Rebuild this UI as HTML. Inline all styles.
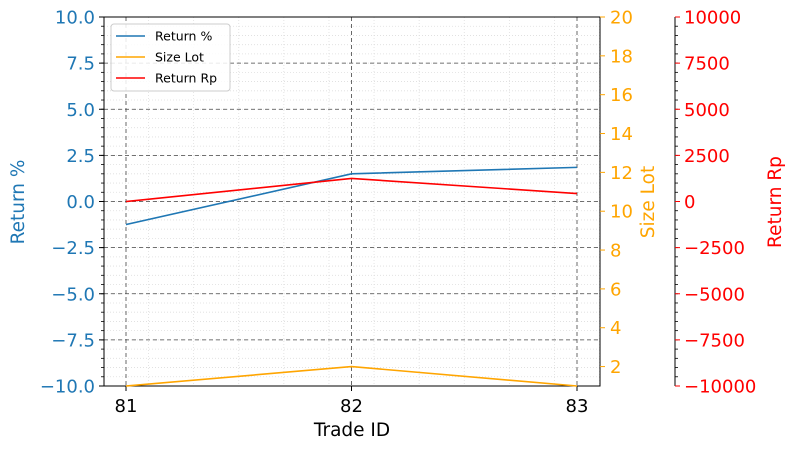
<!DOCTYPE html>
<html><head><meta charset="utf-8"><style>
body{margin:0;background:#fff;width:796px;height:450px;overflow:hidden}
svg{font-family:"DejaVu Sans","Liberation Sans",sans-serif}
</style></head><body>
<svg id="c" width="796" height="450"></svg>
<script>
const tradeIds=[81,82,83];
const returnPct=[-1.25,1.5,1.85];
const sizeLot=[1,2,1];
const returnRp=[0,1250,430];
const leftTicks=[-10,-7.5,-5,-2.5,0,2.5,5,7.5,10];
const lotTicks=[2,4,6,8,10,12,14,16,18,20];
const rpTicks=[-10000,-7500,-5000,-2500,0,2500,5000,7500,10000];
const L=104,R=600,T=17,B=386;
const xs=v=>126+(v-81)*225.5;
const yL=v=>B-(v+10)/20*(B-T);
const yS=v=>B-(v-1)/19*(B-T);
const yR=v=>B-(v+10000)/20000*(B-T);
const svg=document.getElementById('c');
const NS='http://www.w3.org/2000/svg';
function el(tag,a,txt){const e=document.createElementNS(NS,tag);for(const k in a)e.setAttribute(k,a[k]);if(txt!==undefined)e.textContent=txt;svg.appendChild(e);return e;}
const fmt=(s,neg)=>neg?'\u2212'+s:s;
const FS=18;
for(let v=-10;v<=10.001;v+=0.5){const g=el('line',{x1:L,x2:R,y1:yL(v),y2:yL(v),stroke:'#ddd','stroke-width':0.8,'stroke-dasharray':'1,2'});

}
for(let v=80.9;v<=83.11;v+=0.2){const x=xs(v);if(x<L||x>R)continue;const g=el('line',{x1:x,x2:x,y1:T,y2:B,stroke:'#ddd','stroke-width':0.8,'stroke-dasharray':'1,2'});

}
leftTicks.forEach(v=>{const g=el('line',{x1:L,x2:R,y1:yL(v),y2:yL(v),stroke:'#444','stroke-width':0.8,'stroke-dasharray':'4,3'});

});
tradeIds.forEach(v=>{const g=el('line',{x1:xs(v),x2:xs(v),y1:T,y2:B,stroke:'#444','stroke-width':0.8,'stroke-dasharray':'4,3'});

});
const fr=el('rect',{x:L,y:T,width:R-L,height:B-T,fill:'none',stroke:'#000','stroke-width':1});


leftTicks.forEach(v=>{el('line',{x1:L-5,x2:L,y1:yL(v),y2:yL(v),stroke:'#000'});
const t=el('text',{x:L-9,y:yL(v)+6.5,'text-anchor':'end','font-size':FS,fill:'#1f77b4'},fmt(Math.abs(v).toFixed(1),v<0));

});
for(let v=-10;v<=10.001;v+=0.5)el('line',{x1:L-3,x2:L,y1:yL(v),y2:yL(v),stroke:'#000','stroke-width':0.8});
tradeIds.forEach(v=>{el('line',{x1:xs(v),x2:xs(v),y1:B,y2:B+5,stroke:'#000'});
const t=el('text',{x:xs(v),y:B+26,'text-anchor':'middle','font-size':FS,fill:'#000'},v);

});
lotTicks.forEach(v=>{el('line',{x1:R,x2:R+5,y1:yS(v),y2:yS(v),stroke:'#ffa500'});
const t=el('text',{x:R+10,y:yS(v)+6.5,'font-size':FS,fill:'#ffa500'},v);

});
const RX=675;
el('line',{x1:RX,x2:RX,y1:T,y2:B,stroke:'#000'});
for(let v=-10000;v<=10000;v+=500)el('line',{x1:RX,x2:RX+3,y1:yR(v),y2:yR(v),stroke:'#000','stroke-width':0.8});
rpTicks.forEach(v=>{el('line',{x1:RX,x2:RX+5,y1:yR(v),y2:yR(v),stroke:'#f00'});
const t=el('text',{x:RX+9,y:yR(v)+6.5,'font-size':FS,fill:'#f00'},fmt(String(Math.abs(v)),v<0));

});
let t=el('text',{x:352,y:436,'text-anchor':'middle','font-size':18.5,fill:'#000'},'Trade ID');

t=el('text',{x:0,y:0,'text-anchor':'middle','font-size':18.5,fill:'#1f77b4',transform:'translate(24,202) rotate(-90)'},'Return %');

t=el('text',{x:0,y:0,'text-anchor':'middle','font-size':18.5,fill:'#ffa500',transform:'translate(654,202) rotate(-90)'},'Size Lot');

t=el('text',{x:0,y:0,'text-anchor':'middle','font-size':18.5,fill:'#f00',transform:'translate(781,202) rotate(-90)'},'Return Rp');

function line(vals,yf,col,name){const p=el('polyline',{points:vals.map((v,i)=>xs(tradeIds[i])+','+yf(v)).join(' '),fill:'none',stroke:col,'stroke-width':1.6});
}
line(returnPct,yL,'#1f77b4','return-pct-line');
line(sizeLot,yS,'#ffa500','size-lot-line');
line(returnRp,yR,'#ff0000','return-rp-line');
const lg=el('rect',{x:111,y:24,width:119,height:67,rx:3,fill:'#fff','fill-opacity':0.85,stroke:'#ccc'});

[['Return %','#1f77b4'],['Size Lot','#ffa500'],['Return Rp','#ff0000']].forEach((d,i)=>{const y=36+i*21;
el('line',{x1:116,x2:145,y1:y,y2:y,stroke:d[1],'stroke-width':1.6});
const tt=el('text',{x:155,y:y+4.5,'font-size':12.5,fill:'#000'},d[0]);
});
</script>
</body></html>
